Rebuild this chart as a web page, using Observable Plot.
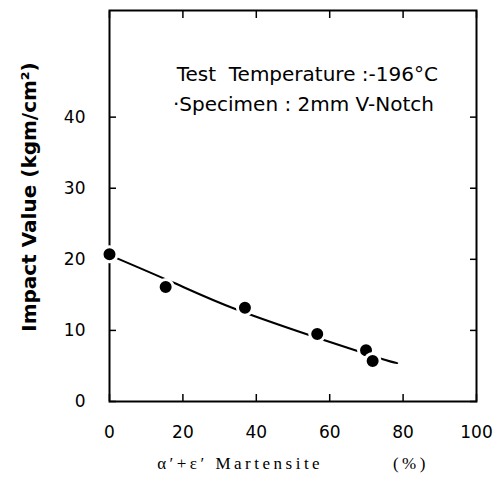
<!DOCTYPE html>
<html>
<head>
<meta charset="utf-8">
<script src="https://cdn.jsdelivr.net/npm/d3@7"></script>
<script src="https://cdn.jsdelivr.net/npm/@observablehq/plot@0.6"></script>
<style>
  html, body { margin: 0; padding: 0; background: #fff; }
</style>
</head>
<body>
<div id="chart"></div>
<script>
// Measured points: martensite (%) vs impact value (kgm/cm2)
const martensite = [0, 15.3, 36.9, 56.6, 69.9, 71.7];
const impact = [20.7, 16.1, 13.2, 9.5, 7.2, 5.7];

// Fitted curve as drawn in the figure
const curveX = [0, 17.5, 34.8, 58.4, 73.8, 78.4];
const curveY = [20.6, 16.7, 12.9, 8.65, 6.05, 5.4];

const xTicks = [0, 20, 40, 60, 80, 100];
const yTicks = [0, 10, 20, 30, 40];

const noteLines = ["Test  Temperature :-196°C", "·Specimen : 2mm V-Notch"];
const noteX = [18.3, 17.3];
const noteY = [45.1, 40.9];

const xLabel = "α′+ε′ Martensite         (%)";
const yLabel = "Impact Value (kgm/cm²)";

const points = martensite.map((x, i) => ({x, y: impact[i]}));
const curve = curveX.map((x, i) => ({x, y: curveY[i]}));
const notes = noteLines.map((t, i) => ({t, x: noteX[i], y: noteY[i]}));

const sans = "DejaVu Sans, sans-serif";

const plot = Plot.plot({
  width: 497,
  height: 489,
  marginLeft: 109,
  marginRight: 21,
  marginTop: 10,
  marginBottom: 88,
  style: {fontFamily: sans, fontSize: "17px", color: "#000", background: "#fff"},
  x: {domain: [0, 100]},
  y: {domain: [0, 55]},
  marks: [
    Plot.axisX({ticks: xTicks, tickSize: -7, tickPadding: 31, strokeWidth: 1.5, fontSize: 17, label: null}),
    Plot.axisX({anchor: "top", ticks: xTicks, tickSize: -7, strokeWidth: 1.5, tickFormat: () => "", label: null}),
    Plot.axisY({ticks: yTicks, tickSize: -7, tickPadding: 31, strokeWidth: 1.5, fontSize: 17, label: null}),
    Plot.axisY({anchor: "right", ticks: yTicks, tickSize: -7, strokeWidth: 1.5, tickFormat: () => "", label: null}),
    Plot.frame({stroke: "#000", strokeWidth: 2}),
    Plot.line(curve, {x: "x", y: "y", curve: "natural", stroke: "#000", strokeWidth: 2}),
    Plot.dot(points, {x: "x", y: "y", r: 7.5, fill: "#000", stroke: "#fff", strokeWidth: 3}),
    Plot.text(notes, {x: "x", y: "y", text: "t", textAnchor: "start", lineAnchor: "bottom", fontSize: 20, fontFamily: sans}),
    Plot.text([xLabel], {frameAnchor: "bottom", dy: 67, text: d => d, fontSize: 17, fontFamily: "Liberation Serif, serif", lineAnchor: "bottom"}),
    Plot.text([yLabel], {frameAnchor: "left", textAnchor: "middle", dx: -80, dy: -9, rotate: -90, text: d => d, fontSize: 20, fontWeight: 600, fontFamily: sans})
  ]
});

document.getElementById("chart").appendChild(plot);

d3.select(plot).selectAll("text").each(function() {
  const t = this.textContent;
  if (t === xLabel) {
    this.setAttribute("style", "white-space: pre; letter-spacing: 3.5px;");
  }
  if (t === noteLines[0] || t === noteLines[1]) {
    this.setAttribute("style", "white-space: pre;");
  }
});
</script>
</body>
</html>
